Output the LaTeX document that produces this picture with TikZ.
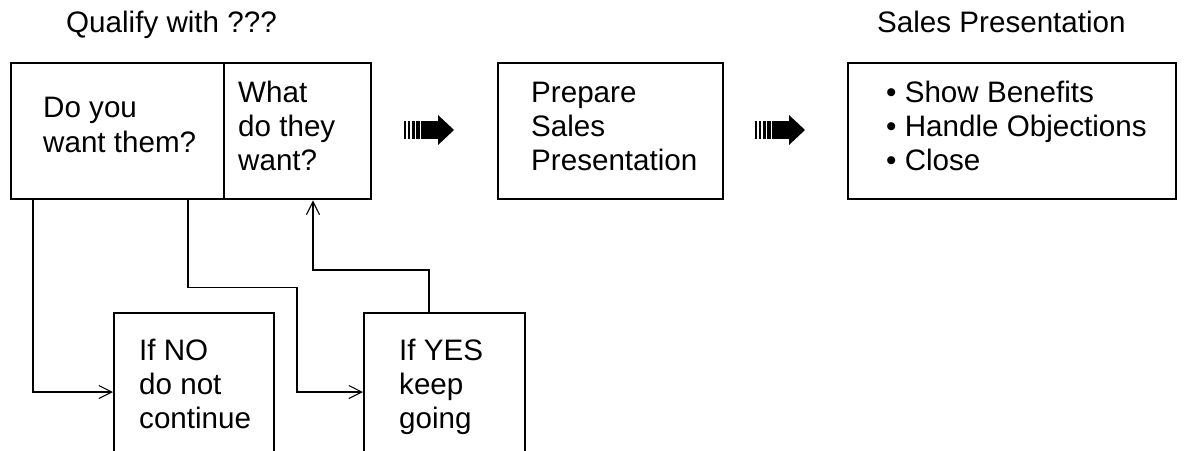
\documentclass[tikz,border=0pt]{standalone}
\usepackage{fontspec}
\setmainfont{Liberation Sans}
\usetikzlibrary{arrows.meta}
\tikzset{
  box/.style={draw=black, line width=2.4pt, rectangle, inner sep=0pt, anchor=north west},
  txt/.style={anchor=base west, inner sep=0pt, font=\fontsize{29.6}{34.5}\selectfont},
  conn/.style={draw=black, line width=1.1pt, -{Straight Barb[length=13pt,width=13pt,line width=1.1pt]}},
  pics/stripearrow/.style={code={
    \fill (0,-9) rectangle (1.6,9);
    \fill (4,-9) rectangle (6,9);
    \fill (8,-9) rectangle (10.5,9);
    \fill (12,-9) rectangle (15.5,9);
    \fill (17,-9) rectangle (34,9);
    \fill (34,-15) -- (34,15) -- (50,0) -- cycle;
  }}
}
\begin{document}
\begin{tikzpicture}[x=1pt,y=-1pt]
\useasboundingbox (0,0) rectangle (1185,450);
\clip (0,0) rectangle (1185,450);

% titles
\node[txt] (t1) at (66,32) {Qualify with ???};
\node[txt] (t2) at (877,32) {Sales Presentation};

% qualifying box (two cells)
\node[box, minimum width=213pt, minimum height=136pt] (qa) at (10,62) {};
\node[box, minimum width=147pt, minimum height=136pt] (qb) at (223,62) {};
\node[txt] (qat1) at (43,117) {Do you};
\node[txt] (qat2) at (43,152) {want them?};
\node[txt] (qbt1) at (238,102) {What};
\node[txt] (qbt2) at (238,136) {do they};
\node[txt] (qbt3) at (238,170) {want?};

% prepare box
\node[box, minimum width=225pt, minimum height=136pt] (prep) at (497,62) {};
\node[txt] (pt1) at (531,102) {Prepare};
\node[txt] (pt2) at (531,136) {Sales};
\node[txt] (pt3) at (531,170) {Presentation};

% sales presentation box
\node[box, minimum width=328pt, minimum height=136pt] (sales) at (847,62) {};
\node[txt] (st1) at (886,102) {\textbullet\ Show Benefits};
\node[txt] (st2) at (886,136) {\textbullet\ Handle Objections};
\node[txt] (st3) at (886,170) {\textbullet\ Close};

% striped arrows
\pic at (404,130) {stripearrow};
\pic at (755,130) {stripearrow};

% bottom boxes
\node[box, minimum width=160pt, minimum height=200pt] (no) at (113,312) {};
\node[txt] (nt1) at (139,360) {If NO};
\node[txt] (nt2) at (139,394) {do not};
\node[txt] (nt3) at (139,428) {continue};

\node[box, minimum width=161pt, minimum height=200pt] (yes) at (363,312) {};
\node[txt] (yt1) at (399,360) {If YES};
\node[txt] (yt2) at (399,394) {keep};
\node[txt] (yt3) at (399,428) {going};

% connectors
\draw[conn] ([xshift=23pt]qa.south west) |- ([yshift=-80pt]no.north west);
\draw[conn] ([xshift=178pt]qa.south west) -- ++(0,87) -- ++(109,0) |- ([yshift=-80pt]yes.north west);
\draw[conn] ([xshift=66pt]yes.north west) -- ++(0,-42) -| ([xshift=90pt]qb.south west);
\end{tikzpicture}
\end{document}
